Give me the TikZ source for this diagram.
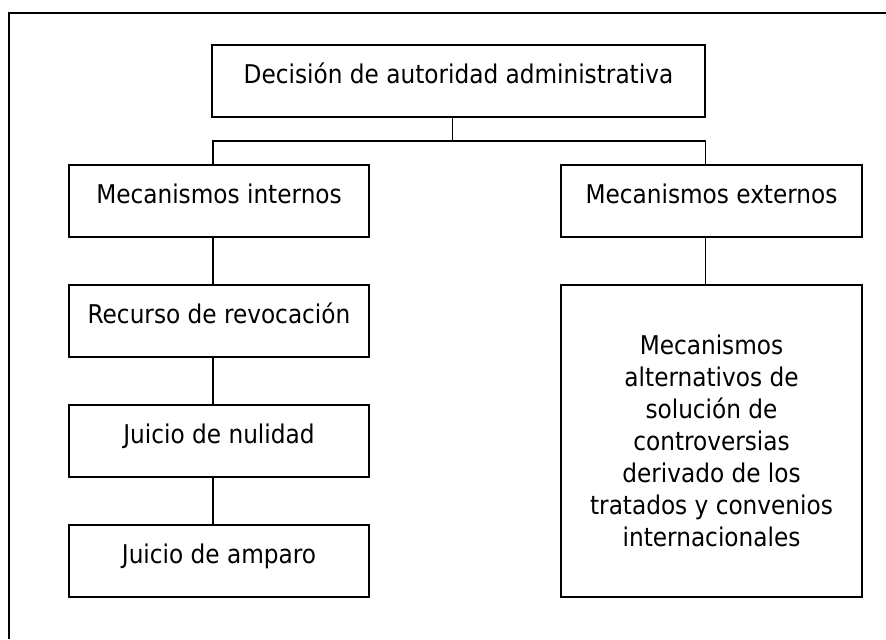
\documentclass[tikz,border=0pt]{standalone}
\usepackage{fontspec}
\setmainfont{DejaVu Sans Condensed}
\usetikzlibrary{positioning}
\tikzset{
  caja/.style={draw, line width=0.7pt, minimum height=36pt, align=center,
    text height=10pt, text depth=8pt, font=\fontsize{12.9}{16}\selectfont},
  cajaizq/.style={caja, minimum width=150pt},
  cajader/.style={caja, minimum width=150.5pt},
  enlace/.style={line width=0.7pt}
}
\begin{document}
\begin{tikzpicture}[x=0.5pt,y=-0.5pt]
\useasboundingbox (0,0) rectangle (886,639);
\draw[line width=1pt] (9,639) -- (9,13) -- (886,13);

\node[caja, minimum width=246.5pt] (decision) at (458.5,81) {Decisión de autoridad administrativa};
\node[cajaizq] (internos) at (219,201) {Mecanismos internos};
\node[cajaizq] (recurso) at (219,321) {Recurso de revocación};
\node[cajaizq] (nulidad) at (219,441) {Juicio de nulidad};
\node[cajaizq] (amparo) at (219,561) {Juicio de amparo};
\node[cajader] (externos) at (711.5,201) {Mecanismos externos};
\node[draw, line width=0.7pt, minimum width=150.5pt, minimum height=156pt, align=center,
  font=\fontsize{12.9}{16}\selectfont] (alternos) at (711.5,441)
  {Mecanismos\\alternativos de\\solución de\\controversias\\derivado de los\\tratados y convenios\\internacionales};

\coordinate (bus) at ([xshift=-3pt]decision.south |- 0,141);
\draw[enlace] ([xshift=-3pt]decision.south) -- (bus);
\draw[enlace] ([xshift=-3pt]internos.north) |- (bus) -| ([xshift=-3pt]externos.north);
\draw[enlace] ([xshift=-3pt]internos.south) -- ([xshift=-3pt]recurso.north);
\draw[enlace] ([xshift=-3pt]recurso.south) -- ([xshift=-3pt]nulidad.north);
\draw[enlace] ([xshift=-3pt]nulidad.south) -- ([xshift=-3pt]amparo.north);
\draw[enlace] ([xshift=-3pt]externos.south) -- ([xshift=-3pt]alternos.north);
\end{tikzpicture}
\end{document}
